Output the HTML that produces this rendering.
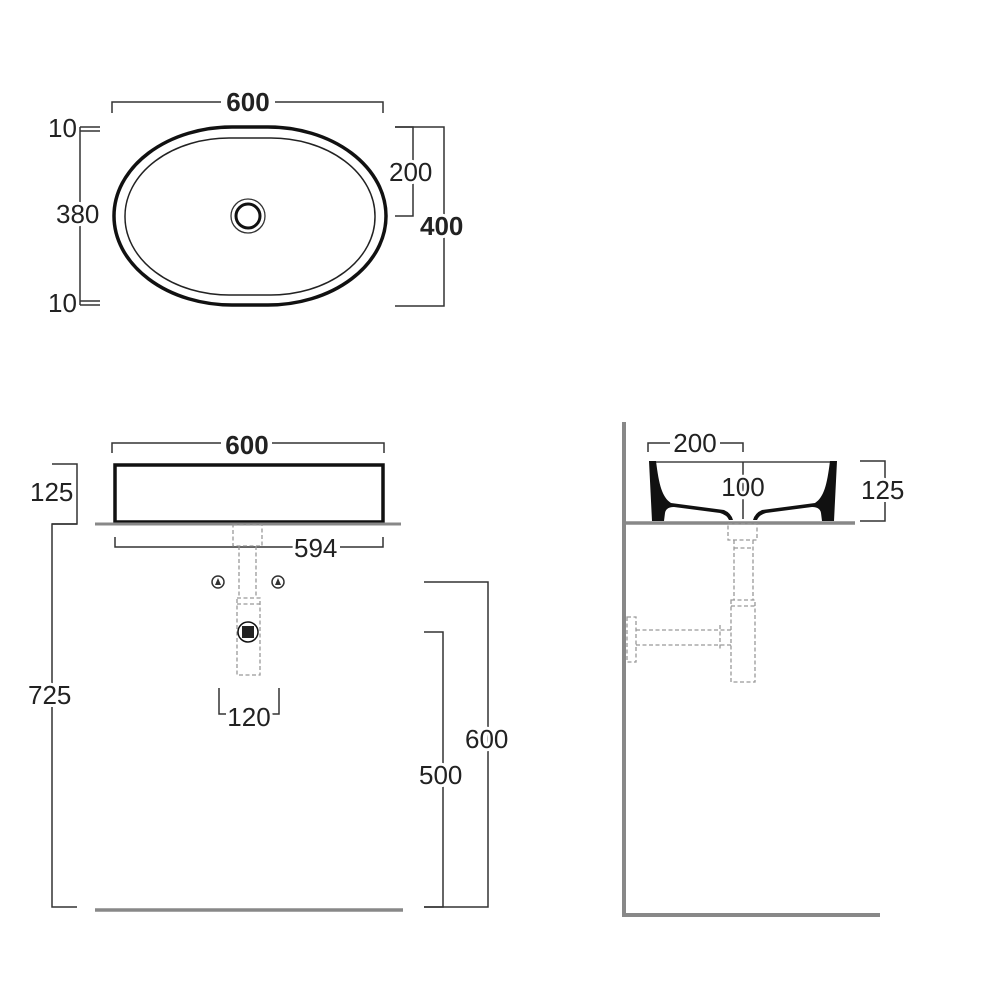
<!DOCTYPE html>
<html><head><meta charset="utf-8"><style>
html,body{margin:0;padding:0;background:#fff;}
svg{display:block;}
text{font-family:"Liberation Sans",sans-serif;fill:#222;stroke:#fff;stroke-width:6;paint-order:stroke;}
</style></head><body>
<svg width="1000" height="1000" viewBox="0 0 1000 1000" xmlns="http://www.w3.org/2000/svg">
<g fill="none" stroke="#333" stroke-width="1.5">
<!-- TOP VIEW -->
<rect x="114" y="127" width="272" height="178" rx="118" ry="89" stroke="#111" stroke-width="3.5"/>
<rect x="125" y="138" width="250" height="157" rx="104" ry="78" stroke="#222" stroke-width="1.5"/>
<circle cx="248" cy="216" r="17" stroke-width="1.3"/>
<circle cx="248" cy="216" r="12" stroke="#111" stroke-width="3"/>
<path d="M112 113 V102 H221 M275 102 H383 V113"/>
<path d="M80 127 H100 M80 131 H100 M80 127 V305 M80 301 H100 M80 305 H100"/>
<path d="M395 127 H413 V216 H395"/>
<path d="M395 127 H444 V306 H395"/>

<!-- FRONT VIEW -->
<rect x="115" y="465" width="268" height="57" stroke="#111" stroke-width="3.5"/>
<path d="M95 524 H401" stroke="#888" stroke-width="3"/>
<path d="M112 453 V443 H221 M272 443 H384 V453"/>
<path d="M115 537 V547 H293 M340 547 H383 V537"/>
<path d="M52 464 H77 V524 H52"/>
<path d="M77 524 H52 V907 H77"/>
<path d="M95 910 H403" stroke="#888" stroke-width="3.5"/>
<path d="M424 582 H488 V907 H424"/>
<path d="M424 632 H443 V907 H424"/>
<g stroke="#999" stroke-width="1.3" stroke-dasharray="4 2.5">
<rect x="233" y="525" width="29" height="21"/>
<path d="M239 546 V598 M256 546 V598"/>
<rect x="237" y="598" width="23" height="77"/>
<path d="M237 604 H260"/>
</g>
<circle cx="248" cy="632" r="10" stroke="#111" stroke-width="1.5"/>
<rect x="242" y="626" width="12" height="12" fill="#222" stroke="none"/>
<circle cx="218" cy="582" r="6" stroke="#333"/>
<circle cx="278" cy="582" r="6" stroke="#333"/>
<path d="M215 585 L218 578 L221 585 Z M275 585 L278 578 L281 585 Z" fill="#333" stroke="none"/>
<path d="M219 688 V714 H226 M279 688 V714 H272"/>

<!-- SIDE VIEW -->
<path d="M624 422 V917 M624 915 H880" stroke="#888" stroke-width="4"/>
<path d="M624 523 H855" stroke="#888" stroke-width="3.5"/>
<path d="M652 462 H835" stroke="#444" stroke-width="1.5"/>
<g fill="#111" stroke="none">
<path d="M649 461 H656 C659 485 662 497 671 503 L724 510 Q731 513 733 520 H729 Q727 515 720 513 L674 507 Q666 507 665 513 L664 521 H657 L652 521 Z"/>
<path d="M837 461 H830 C827 485 824 497 815 503 L762 510 Q755 513 753 520 H757 Q759 515 766 513 L812 507 Q820 507 821 513 L822 521 H829 L834 521 Z"/>
</g>
<path d="M648 452 V443 H670 M720 443 H743 V452"/>
<path d="M743 462 V519"/>
<path d="M860 461 H885 V521 H860"/>
<g stroke="#999" stroke-width="1.3" stroke-dasharray="4 2.5">
<rect x="728" y="524" width="29" height="16"/>
<path d="M734 540 V600 M753 540 V600 M734 548 H753"/>
<rect x="731" y="600" width="24" height="82"/>
<path d="M731 606 H755"/>
<path d="M636 630 H731 M636 645 H731 M720 625 V650"/>
<rect x="627" y="617" width="9" height="45"/>
</g>
</g>
<g font-size="26">
<text x="248" y="111" text-anchor="middle" font-weight="bold">600</text>
<text x="48" y="137" stroke-width="0">10</text>
<text x="56" y="223">380</text>
<text x="48" y="312" stroke-width="0">10</text>
<text x="389" y="181">200</text>
<text x="420" y="235" font-weight="bold">400</text>
<text x="247" y="454" text-anchor="middle" font-weight="bold">600</text>
<text x="294" y="557">594</text>
<text x="30" y="501">125</text>
<text x="28" y="704">725</text>
<text x="465" y="748">600</text>
<text x="419" y="784">500</text>
<text x="249" y="726" text-anchor="middle">120</text>
<text x="695" y="452" text-anchor="middle">200</text>
<text x="743" y="496" text-anchor="middle">100</text>
<text x="861" y="499">125</text>
</g>
</svg>
</body></html>
